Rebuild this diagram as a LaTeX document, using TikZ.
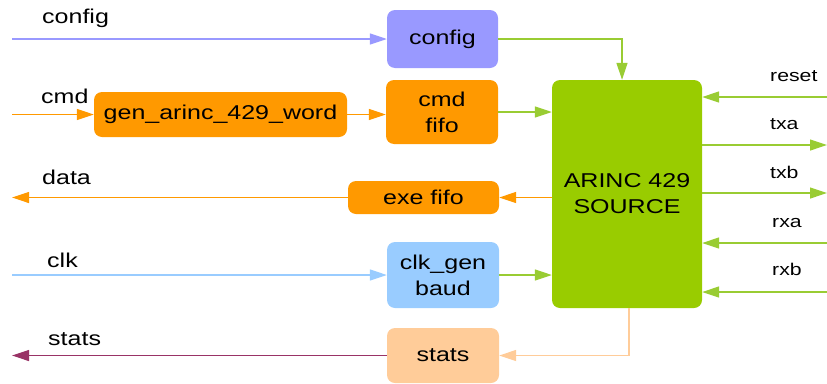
\documentclass[tikz,border=0pt]{standalone}
\usepackage{fontspec}
\setmainfont[FakeStretch=1.25]{Liberation Sans}
\usetikzlibrary{arrows.meta,calc}
\definecolor{cfgblue}{HTML}{9999FF}
\definecolor{orng}{HTML}{FF9900}
\definecolor{grn}{HTML}{99CC00}
\definecolor{grnline}{HTML}{99CC33}
\definecolor{skyblue}{HTML}{99CCFF}
\definecolor{peach}{HTML}{FFCC99}
\definecolor{maroon}{HTML}{993366}
\tikzset{
  blk/.style={rounded corners=8pt, inner sep=0pt, align=center,
    font=\fontsize{20}{26}\selectfont, text=black},
  wire/.style={line width=1.2pt, -{Triangle[length=17pt,width=11pt]}},
  lbl/.style={anchor=base west, inner sep=0pt, font=\fontsize{20}{24}\selectfont},
  rlbl/.style={anchor=base west, inner sep=0pt, font=\fontsize{17}{20}\selectfont},
}
\begin{document}
\begin{tikzpicture}[x=1pt,y=-1pt]
\useasboundingbox (0,0) rectangle (827,383);

% blocks
\node[blk, fill=cfgblue, minimum width=111pt, minimum height=58pt] (cfg) at (442.5,39) {config};
\node[blk, fill=orng, minimum width=112pt, minimum height=64pt] (cmdfifo) at (442,112) {cmd\\fifo};
\node[blk, fill=orng, minimum width=253pt, minimum height=45pt] (gen) at (220.5,114.5) {gen\_arinc\_429\_word};
\node[blk, fill=orng, minimum width=151pt, minimum height=33pt] (exe) at (423.5,197.5) {exe fifo};
\node[blk, fill=skyblue, minimum width=112pt, minimum height=66pt] (clkgen) at (443,275) {clk\_gen\\baud};
\node[blk, fill=peach, minimum width=112pt, minimum height=55pt] (stats) at (443,355.5) {stats};
\node[blk, fill=grn, minimum width=150pt, minimum height=228pt] (src) at (627,194) {ARINC 429\\SOURCE};

% outer ports
\coordinate (pcfg) at (12,39);
\coordinate (pcmd) at (12,114.5);
\coordinate (pdata) at (12,197.5);
\coordinate (pclk) at (12,275);
\coordinate (pstats) at (12,355.5);
\coordinate (preset) at (827,97);
\coordinate (ptxa) at (827,145);
\coordinate (ptxb) at (827,193);
\coordinate (prxa) at (827,243);
\coordinate (prxb) at (827,292);

% port labels
\node[lbl] (lcfg) at (42,23) {config};
\node[lbl] (lcmd) at (41,103) {cmd};
\node[lbl] (ldata) at (42,184) {data};
\node[lbl] (lclk) at (47,267) {clk};
\node[lbl] (lstats) at (48,345) {stats};
\node[rlbl] (lreset) at (770,81) {reset};
\node[rlbl] (ltxa) at (770,129) {txa};
\node[rlbl] (ltxb) at (770,178) {txb};
\node[rlbl] (lrxa) at (772,227) {rxa};
\node[rlbl] (lrxb) at (772,275) {rxb};

% left-hand connections
\draw[wire, draw=cfgblue] (pcfg) -- (cfg.west);
\draw[wire, draw=orng] (pcmd) -- (gen.west);
\draw[wire, draw=orng] (gen.east) -- (gen.east -| cmdfifo.west);
\draw[wire, draw=orng] (exe.west) -- (pdata);
\draw[wire, draw=skyblue] (pclk) -- (clkgen.west);
\draw[wire, draw=maroon] (stats.west) -- (pstats);

% into and out of the source block
\draw[wire, draw=grnline] (cfg.east) -| ([xshift=-5pt]src.north);
\draw[wire, draw=grnline] (cmdfifo.east) -- (cmdfifo.east -| src.west);
\draw[wire, draw=grnline] (clkgen.east) -- (clkgen.east -| src.west);
\draw[wire, draw=orng] (exe.east -| src.west) -- (exe.east);
\draw[wire, draw=peach] ([xshift=2pt]src.south) |- (stats.east);

% right-hand ports
\draw[wire, draw=grnline] (preset) -- (preset -| src.east);
\draw[wire, draw=grnline] (ptxa -| src.east) -- (ptxa);
\draw[wire, draw=grnline] (ptxb -| src.east) -- (ptxb);
\draw[wire, draw=grnline] (prxa) -- (prxa -| src.east);
\draw[wire, draw=grnline] (prxb) -- (prxb -| src.east);
\end{tikzpicture}
\end{document}
